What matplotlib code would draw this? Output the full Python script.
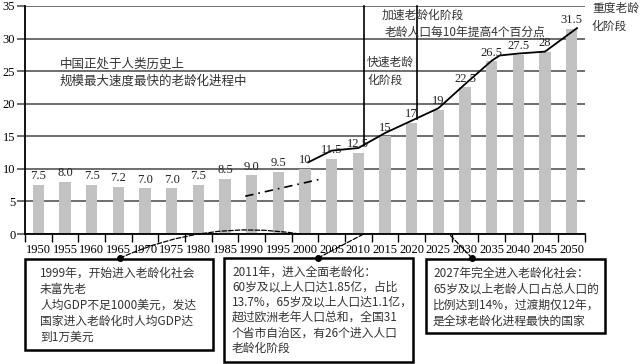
import matplotlib
matplotlib.use('Agg')
import matplotlib.pyplot as plt
from matplotlib.patches import Rectangle

# 老龄化比例 (%) by year
years = [1950, 1955, 1960, 1965, 1970, 1975, 1980, 1985, 1990, 1995, 2000,
         2005, 2010, 2015, 2020, 2025, 2030, 2035, 2040, 2045, 2050]
ratio = [7.5, 8.0, 7.5, 7.2, 7.0, 7.0, 7.5, 8.5, 9.0, 9.5, 10,
         11.5, 12.5, 15, 17, 19, 22.5, 26.5, 27.5, 28, 31.5]
bar_labels = ['7.5', '8.0', '7.5', '7.2', '7.0', '7.0', '7.5', '8.5', '9.0', '9.5', '10',
              '11.5', '12.5', '15', '17', '19', '22.5', '26.5', '27.5', '28', '31.5']

# trend curve drawn over the bars
curve_years = [2000.6, 2005, 2010, 2015, 2020, 2025, 2030, 2035, 2036.5, 2040, 2045, 2051]
curve_vals = [11.0, 12.8, 13.2, 15.5, 17.4, 19.3, 23.0, 26.6, 27.4, 27.7, 28.0, 31.6]

# dashed early trend
dash_years = [1988.8, 2002.8]
dash_vals = [5.8, 8.4]

# stage boundaries (vertical lines)
stage_years = [2011, 2021]
stage_floor = [13.7, 17.7]

# events pointed to from the boxes
event_years = [1999, 2011, 2027]

box_texts = [
    ["1999年，开始进入老龄化社会", "未富先老", "人均GDP不足1000美元，发达",
     "国家进入老龄化时人均GDP达", "到1万美元"],
    ["2011年，进入全面老龄化：", "60岁及以上人口达1.85亿，占比",
     "13.7%，65岁及以上人口达1.1亿，", "超过欧洲老年人口总和，全国31",
     "个省市自治区，有26个进入人口", "老龄化阶段"],
    ["2027年完全进入老龄化社会：", "65岁及以上老龄人口占总人口的",
     "比例达到14%，过渡期仅12年，", "是全球老龄化进程最快的国家"],
]

cjk = ['Noto Sans CJK SC', 'DejaVu Sans']
serif = 'Liberation Serif'
W, H = 640, 364


def pos(y):
    return (y - 1950) / 5.0


fig = plt.figure(figsize=(6.4, 3.64), dpi=100)
ax = fig.add_axes([25 / W, 1 - 234 / H, 560 / W, 228 / H])

x = [pos(y) for y in years]
ax.bar(x, ratio, width=0.42, color='#c2c2c2', zorder=2)
for xi, v, lab in zip(x, ratio, bar_labels):
    ax.annotate(lab, (xi, v), xytext=(0, 2), textcoords='offset points',
                ha='center', va='bottom', fontsize=9, family=serif, color='#222222', zorder=4)

ax.plot([pos(y) for y in curve_years], curve_vals, color='black', lw=1.3, zorder=3)
ax.plot([pos(y) for y in dash_years], dash_vals, color='black', lw=1.2,
        dashes=(5, 3, 1, 3), zorder=3)
for sy, fl in zip(stage_years, stage_floor):
    ax.plot([pos(sy), pos(sy)], [fl, 35], color='black', lw=1.2, zorder=3, clip_on=False)

ax.set_xlim(-0.5, 20.5)
ax.set_ylim(0, 35)
ax.set_yticks(range(0, 36, 5))
ax.yaxis.grid(True, color='#555555', lw=1.2, zorder=1)
ax.set_axisbelow(True)
ax.tick_params(axis='y', length=6, width=1.2, color='#555555', pad=1, labelsize=9)
for lab in ax.get_yticklabels():
    lab.set_family(serif)

ax.set_xticks([i - 0.5 for i in range(22)])
ax.set_xticklabels([])
ax.set_xticks(x, minor=True)
ax.set_xticklabels([str(y) for y in years], minor=True, family=serif, fontsize=9)
ax.tick_params(axis='x', which='major', length=6, width=1, direction='out')
ax.tick_params(axis='x', which='minor', length=0, pad=7)

for s in ['top', 'right']:
    ax.spines[s].set_visible(False)
ax.spines['left'].set_linewidth(1.3)
ax.spines['bottom'].set_linewidth(1.3)

# stage texts
def ftext(px, py, s, size=8.5):
    fig.text(px / W, 1 - py / H, s, family=cjk, fontsize=size, color='#333333',
             ha='left', va='center')

ftext(60, 64, "中国正处于人类历史上", 9)
ftext(60, 81, "规模最大速度最快的老龄化进程中", 9)
ftext(367, 62, "快速老龄")
ftext(367, 80, "化阶段")
ftext(382, 15, "加速老龄化阶段")
ftext(385, 32, "老龄人口每10年提高4个百分点")
ftext(592, 8, "重度老龄")
ftext(592, 26, "化阶段")

# boxes
boxes = [(25, 259, 213, 350), (224, 258, 413, 362), (426, 259, 605, 333)]
text_x = [40, 232, 433]
text_y0 = [273, 272, 273]
text_step = [16, 15.2, 16]
dots = [(120, 258), (318, 258), (472, 258)]
rads = [-0.15, 0.0, 0.0]

for i, (x0, y0, x1, y1) in enumerate(boxes):
    fig.add_artist(Rectangle((x0 / W, 1 - y1 / H), (x1 - x0) / W, (y1 - y0) / H,
                             transform=fig.transFigure, fill=False, ec='black', lw=1.8))
    for j, line in enumerate(box_texts[i]):
        ftext(text_x[i], text_y0[i] + j * text_step[i], line)
    dx, dy = dots[i]
    ax.annotate('', xy=(pos(event_years[i]), 0), xycoords='data',
                xytext=(dx / W, 1 - dy / H), textcoords='figure fraction',
                arrowprops=dict(arrowstyle='-', linestyle='--', color='black', lw=0.9,
                                shrinkA=0, shrinkB=0,
                                connectionstyle='arc3,rad=%s' % rads[i]),
                annotation_clip=False)
    fig.add_artist(plt.Line2D([dx / W], [1 - dy / H], marker='o', markersize=4,
                              color='black', transform=fig.transFigure))

fig.savefig('out.png', dpi=100)
